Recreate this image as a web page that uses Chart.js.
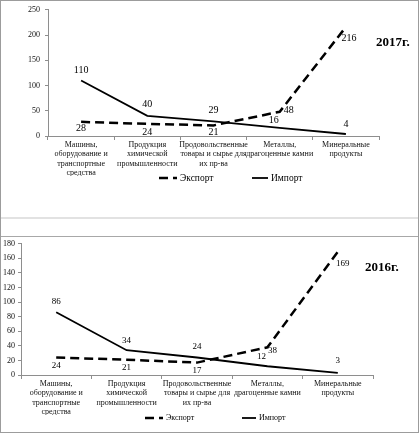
<!DOCTYPE html>
<html>
<head>
<meta charset="utf-8">
<script src="https://cdn.jsdelivr.net/npm/chart.js@4"></script>
<style>
  html, body { margin: 0; padding: 0; background: #fff; }
  body { width: 419px; height: 433px; position: relative; overflow: hidden; font-family: "Liberation Serif", serif; }
  canvas { position: absolute; left: 0; }
  #c2017 { top: 0; }
  #c2016 { top: 236px; }
  .frame { position: absolute; left: 0; top: 0; width: 419px; height: 433px; box-sizing: border-box;
           border: 1px solid #9c9c9c; pointer-events: none; }
  .sep1 { position: absolute; left: 1px; top: 217px; width: 417px; height: 2px; background: #e2e2e2; }
  .sep2 { position: absolute; left: 1px; top: 236px; width: 417px; height: 1px; background: #a8a8a8; }
  .year { position: absolute; font-family: "Liberation Serif", serif; font-weight: bold; font-size: 13px; color: #000; }
</style>
</head>
<body>
<canvas id="c2017" width="419" height="217"></canvas>
<canvas id="c2016" width="419" height="196"></canvas>
<div class="frame"></div>
<div class="sep1"></div>
<div class="sep2"></div>
<div class="year" style="left:376px; top:34px;">2017г.</div>
<div class="year" style="left:365px; top:259px;">2016г.</div>
<script>
// categories and values
const categories = [
  ['Машины,', 'оборудование и', 'транспортные', 'средства'],
  ['Продукция', 'химической', 'промышленности'],
  ['Продовольственные', 'товары и сырье для', 'их пр-ва'],
  ['Металлы,', 'драгоценные камни'],
  ['Минеральные', 'продукты']
];
const seriesNames = ['Экспорт', 'Импорт'];

const export2017 = [28, 24, 21, 48, 216];
const import2017 = [110, 40, 29, 16, 4];
const export2016 = [24, 21, 17, 38, 169];
const import2016 = [86, 34, 24, 12, 3];

const yTicks2017 = [0, 50, 100, 150, 200, 250];
const yTicks2016 = [0, 20, 40, 60, 80, 100, 120, 140, 160, 180];

// where each value label sits relative to its point [dx, dy]
const shifts2017 = [
  [[0, 7], [0, 8], [0, 7], [9, -1], [3, 11]],
  [[0, -10], [0, -11], [0, -11], [-6, -8], [0, -10]]
];
const shifts2016 = [
  [[0, 8], [0, 8], [0, 8], [5, 3], [5, 12]],
  [[0, -11], [0, -10], [0, -11], [-6, -10], [0, -12]]
];

const FONT = '"Liberation Serif", serif';

const valueLabels = {
  id: 'valueLabels',
  afterDatasetsDraw(chart, args, opts) {
    const ctx = chart.ctx;
    ctx.save();
    ctx.font = opts.size + 'px ' + FONT;
    ctx.fillStyle = '#000';
    ctx.textAlign = 'center';
    ctx.textBaseline = 'middle';
    chart.data.datasets.forEach((ds, i) => {
      chart.getDatasetMeta(i).data.forEach((pt, j) => {
        const s = opts.shifts[i][j];
        ctx.fillText(String(ds.data[j]), pt.x + s[0], pt.y + s[1]);
      });
    });
    ctx.restore();
  }
};

const lineLegend = {
  id: 'lineLegend',
  afterDraw(chart, args, opts) {
    const ctx = chart.ctx;
    ctx.save();
    ctx.font = opts.size + 'px ' + FONT;
    ctx.fillStyle = '#000';
    ctx.textAlign = 'left';
    ctx.textBaseline = 'middle';
    chart.data.datasets.forEach((ds, i) => {
      const it = opts.items[i];
      ctx.beginPath();
      ctx.setLineDash(ds.borderDash || []);
      ctx.lineWidth = ds.borderWidth;
      ctx.strokeStyle = ds.borderColor;
      ctx.moveTo(it.x, opts.y);
      ctx.lineTo(it.x + it.len, opts.y);
      ctx.stroke();
      ctx.setLineDash([]);
      ctx.fillText(ds.label, it.x + it.len + 3, opts.y);
    });
    ctx.restore();
  }
};

function makeChart(id, exp, imp, yTicks, cfg) {
  return new Chart(document.getElementById(id), {
    type: 'line',
    data: {
      labels: categories,
      datasets: [
        { label: seriesNames[0], data: exp, borderColor: '#000', borderWidth: 2.5,
          borderDash: [9, 5], pointRadius: 0, tension: 0 },
        { label: seriesNames[1], data: imp, borderColor: '#000', borderWidth: 1.8,
          pointRadius: 0, tension: 0 }
      ]
    },
    options: {
      responsive: false,
      animation: false,
      devicePixelRatio: 1,
      layout: { padding: cfg.padding },
      plugins: {
        legend: { display: false },
        tooltip: { enabled: false },
        valueLabels: { size: cfg.labelSize, shifts: cfg.shifts },
        lineLegend: { size: cfg.legendSize, y: cfg.legendY, items: cfg.legendItems }
      },
      scales: {
        x: {
          offset: true,
          afterFit: s => { s.height = cfg.xHeight; },
          border: { color: '#8e8e8e' },
          grid: { offset: true, drawOnChartArea: false, tickLength: 4, color: '#8e8e8e' },
          ticks: { autoSkip: false, maxRotation: 0, minRotation: 0, padding: 0, color: '#111',
                   font: { family: FONT, size: 8, lineHeight: 1.18 } }
        },
        y: {
          min: yTicks[0],
          max: yTicks[yTicks.length - 1],
          afterBuildTicks: s => { s.ticks = yTicks.map(v => ({ value: v })); },
          afterFit: s => { s.width = cfg.yWidth; },
          border: { color: '#8e8e8e' },
          grid: { drawOnChartArea: false, tickLength: 3, color: '#8e8e8e' },
          ticks: { padding: cfg.yPad, color: '#111', font: { family: FONT, size: 8 } }
        }
      }
    },
    plugins: [valueLabels, lineLegend]
  });
}

makeChart('c2017', export2017, import2017, yTicks2017, {
  padding: { left: 0, top: 7, right: 40, bottom: 41 },
  xHeight: 40, yWidth: 48, yPad: 5,
  labelSize: 10, shifts: shifts2017,
  legendSize: 9.5, legendY: 178,
  legendItems: [{ x: 159, len: 18 }, { x: 252, len: 16 }]
});

makeChart('c2016', export2016, import2016, yTicks2016, {
  padding: { left: 0, top: 7, right: 46, bottom: 17 },
  xHeight: 40, yWidth: 21, yPad: 3,
  labelSize: 9, shifts: shifts2016,
  legendSize: 8, legendY: 182,
  legendItems: [{ x: 145, len: 18 }, { x: 242, len: 14 }]
});
</script>
</body>
</html>
